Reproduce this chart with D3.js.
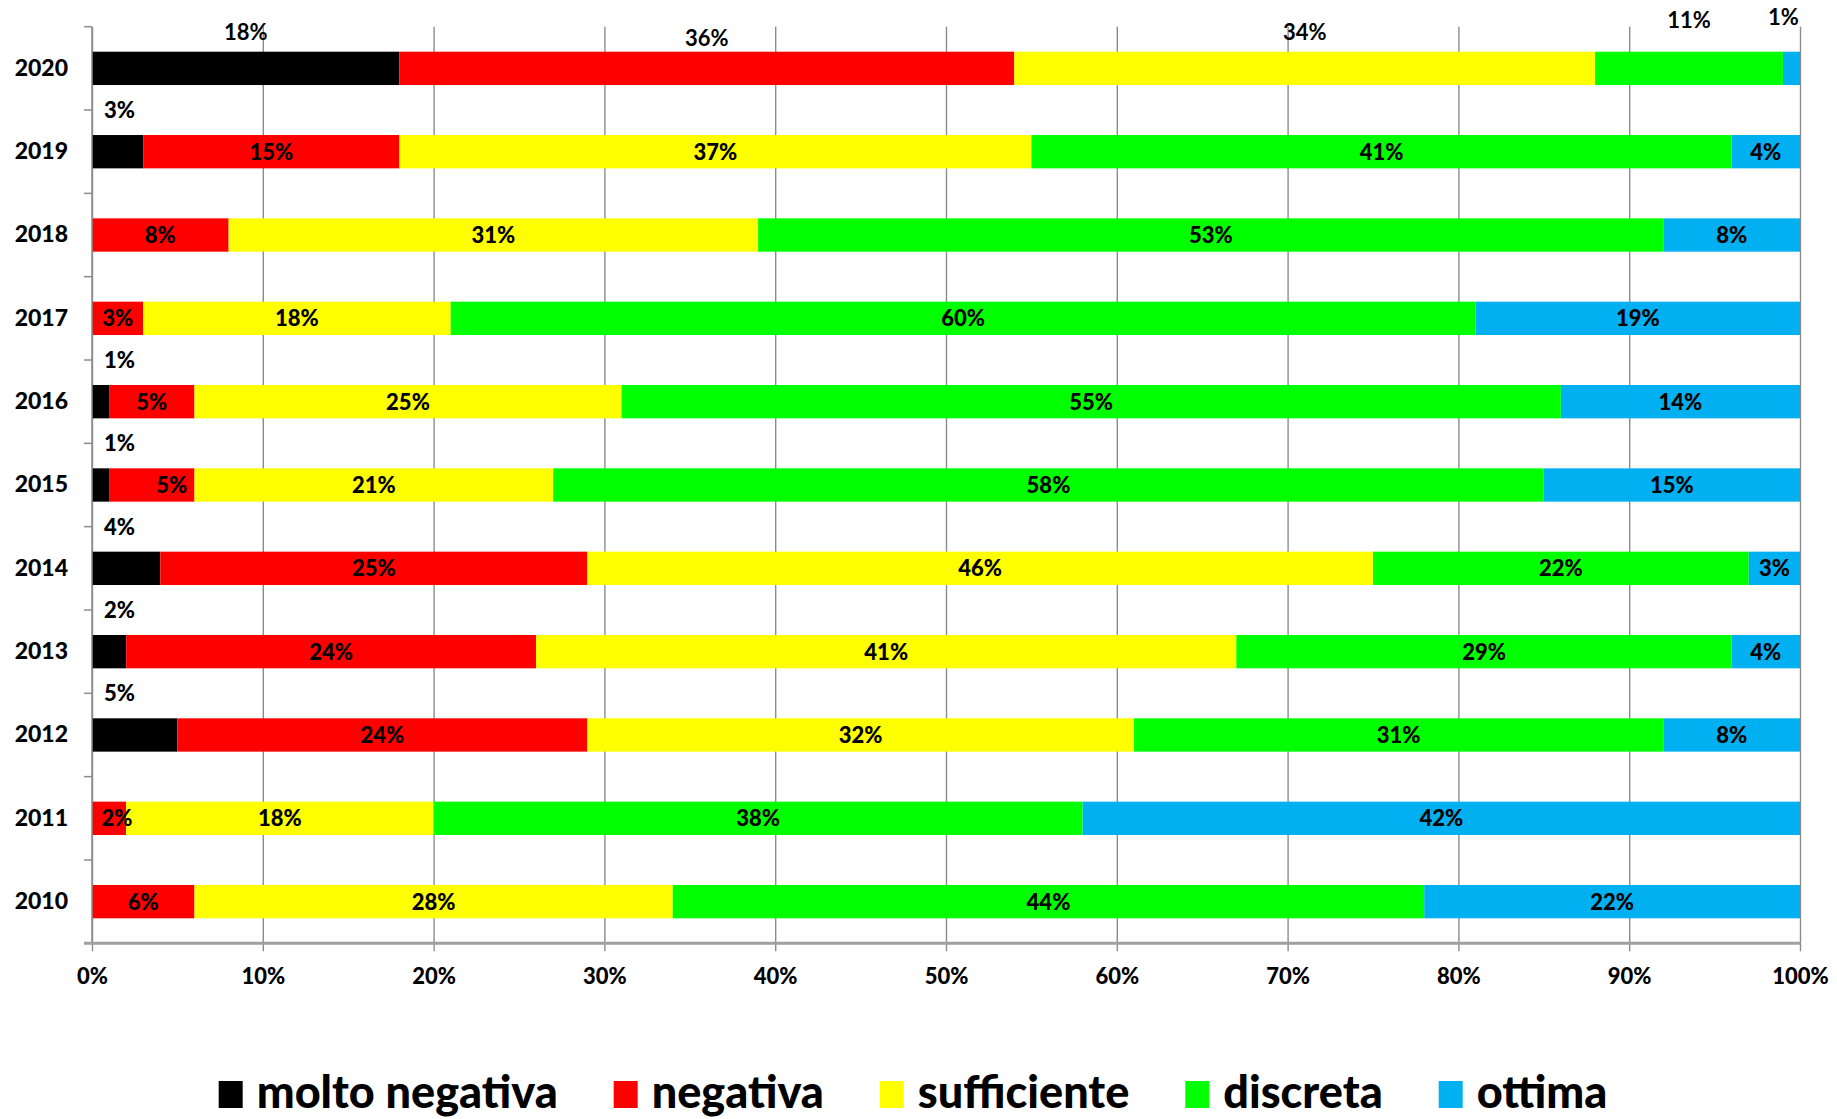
<!DOCTYPE html>
<html>
<head>
<meta charset="utf-8">
<script src="https://cdn.jsdelivr.net/npm/d3@7"></script>
<style>
  body { margin: 0; background: #fff; }
  svg { display: block; font-family: Lato, "Open Sans", sans-serif; font-weight: 900; }
</style>
</head>
<body>
<svg width="1837" height="1119"></svg>
<script>
'use strict';
// data (percentages)
var years = ["2020", "2019", "2018", "2017", "2016", "2015", "2014", "2013", "2012", "2011", "2010"];
var seriesNames = ["molto negativa", "negativa", "sufficiente", "discreta", "ottima"];
var moltoNegativa = [18, 3, 0, 0, 1, 1, 4, 2, 5, 0, 0];
var negativa      = [36, 15, 8, 3, 5, 5, 25, 24, 24, 2, 6];
var sufficiente   = [34, 37, 31, 18, 25, 21, 46, 41, 32, 18, 28];
var discreta      = [11, 41, 53, 60, 55, 58, 22, 29, 31, 38, 44];
var ottima        = [1, 4, 8, 19, 14, 15, 3, 4, 8, 42, 22];
var xTicks = [0, 0.1, 0.2, 0.3, 0.4, 0.5, 0.6, 0.7, 0.8, 0.9, 1];
var colors = ["#000000", "#ff0000", "#ffff00", "#00ff00", "#00b0f0"];

var svg = d3.select("svg"),
    margin = {top: 26.7, right: 37, bottom: 175.7, left: 92},
    width = +svg.attr("width") - margin.left - margin.right,
    height = +svg.attr("height") - margin.top - margin.bottom;

var table = years.map(function(yr, i) {
  return {year: yr, "molto negativa": moltoNegativa[i], "negativa": negativa[i],
    "sufficiente": sufficiente[i], "discreta": discreta[i], "ottima": ottima[i]};
});
var stacked = d3.stack().keys(seriesNames).offset(d3.stackOffsetExpand)(table);

var x = d3.scaleLinear().domain([0, 1]).range([0, width]),
    y = d3.scaleBand().domain(years).range([0, height]).paddingInner(0.6).paddingOuter(0.3),
    color = d3.scaleOrdinal().domain(seriesNames).range(colors);

var g = svg.append("g").attr("transform", "translate(" + margin.left + "," + margin.top + ")");

// vertical gridlines
g.append("g")
  .attr("transform", "translate(0," + height + ")")
  .call(d3.axisBottom(x).tickValues(xTicks).tickSize(-height).tickFormat(""))
  .call(function(s) {
    s.select(".domain").remove();
    s.selectAll("line").attr("stroke", "#8c8c8c").attr("stroke-width", 1.4);
  });

// bars
g.selectAll(".serie")
  .data(stacked)
  .enter().append("g")
    .attr("class", "serie")
    .attr("fill", function(d) { return color(d.key); })
  .selectAll("rect")
  .data(function(d) { return d; })
  .enter().append("rect")
    .attr("x", function(d) { return x(d[0]); })
    .attr("y", function(d) { return y(d.data.year); })
    .attr("width", function(d) { return x(d[1]) - x(d[0]); })
    .attr("height", y.bandwidth());

// y axis: line + ticks between categories
var step = y.step();
var bounds = d3.range(years.length + 1).map(function(i) { return i * step; });
g.append("line")
  .attr("x1", 0).attr("x2", 0).attr("y1", 0).attr("y2", height)
  .attr("stroke", "#8c8c8c").attr("stroke-width", 1.5);
g.selectAll(".ytick")
  .data(bounds)
  .enter().append("line")
    .attr("class", "ytick")
    .attr("x1", -8).attr("x2", 0)
    .attr("y1", function(d) { return d; }).attr("y2", function(d) { return d; })
    .attr("stroke", "#8c8c8c").attr("stroke-width", 1.5);

g.append("g")
  .call(d3.axisLeft(y).tickSize(0).tickPadding(24))
  .call(function(s) {
    s.select(".domain").remove();
    s.selectAll("text").attr("font-size", 23).attr("font-weight", 900).attr("fill", "#000")
      .attr("font-family", "Lato, sans-serif");
  });

// x axis
g.append("g")
  .attr("transform", "translate(0," + height + ")")
  .call(d3.axisBottom(x).tickValues(xTicks).tickSize(8).tickPadding(17).tickFormat(d3.format(".0%")))
  .call(function(s) {
    s.select(".domain").remove();
    s.selectAll("line").attr("stroke", "#8c8c8c").attr("stroke-width", 1.4);
    s.selectAll("text").attr("font-size", 22).attr("font-weight", 900).attr("fill", "#000")
      .attr("font-family", "Lato, sans-serif");
  });
g.append("line")
  .attr("x1", -8).attr("x2", width).attr("y1", height).attr("y2", height)
  .attr("stroke", "#a0a0a0").attr("stroke-width", 3);

// data labels
var topNudge = {"molto negativa": [0, -20], "negativa": [0, -14], "sufficiente": [0, -20],
  "discreta": [0, -32], "ottima": [-8, -35]};
var inNudge = {"2015|negativa": 20, "2011|negativa": 8};
var labels = [];
stacked.forEach(function(serie) {
  serie.forEach(function(d) {
    var v = d.data[serie.key];
    if (!v) return;
    var yr = d.data.year, lx, ly, anchor = "middle", top = false;
    if (yr === years[0]) {
      lx = (x(d[0]) + x(d[1])) / 2 + topNudge[serie.key][0];
      ly = y(yr) + topNudge[serie.key][1];
      top = true;
    } else if (serie.key === seriesNames[0]) {
      lx = 12; ly = y(yr) - 25; anchor = "start";
    } else {
      lx = (x(d[0]) + x(d[1])) / 2 + (inNudge[yr + "|" + serie.key] || 0);
      ly = y(yr) + y.bandwidth() / 2;
    }
    labels.push({text: v + "%", x: lx, y: ly, anchor: anchor, top: top});
  });
});
g.selectAll(".lbl")
  .data(labels)
  .enter().append("text")
    .attr("class", "lbl")
    .attr("x", function(d) { return d.x; })
    .attr("y", function(d) { return d.y; })
    .attr("dy", "0.36em")
    .attr("text-anchor", function(d) { return d.anchor; })
    .attr("font-size", 22)
    .attr("font-weight", function(d) { return d.top ? 700 : 900; })
    .attr("fill", "#000")
    .text(function(d) { return d.text; });

// legend
var legend = svg.append("g").attr("class", "legend");
var items = legend.selectAll("g")
  .data(seriesNames)
  .enter().append("g");
items.append("rect")
  .attr("width", 24).attr("height", 27).attr("y", -27)
  .attr("fill", function(d) { return color(d); });
items.append("text")
  .attr("x", 38).attr("y", 0)
  .attr("font-size", 45)
  .attr("fill", "#000")
  .text(function(d) { return d; });
var pos = 0;
items.each(function() {
  var w = this.querySelector("text").getComputedTextLength();
  d3.select(this).attr("transform", "translate(" + pos + ",0)");
  pos += 38 + w + 56;
});
var total = pos - 56;
legend.attr("transform", "translate(" + (913 - total / 2) + ",1108)");
</script>
</body>
</html>
